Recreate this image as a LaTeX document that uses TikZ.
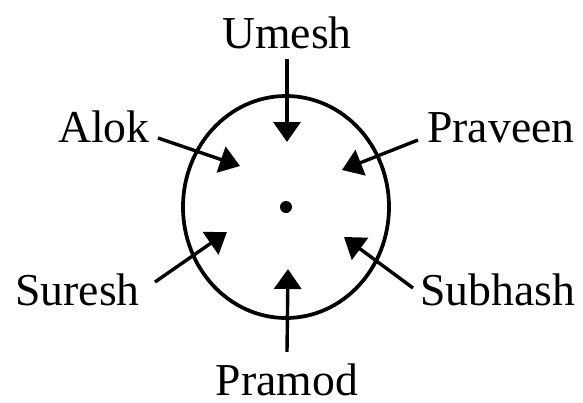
\documentclass[tikz,border=0pt]{standalone}
\usepackage{fontspec}
\setmainfont{Liberation Serif}
\usetikzlibrary{arrows.meta,positioning,calc}
\tikzset{
  namelbl/.style={inner sep=0pt, font=\fontsize{26}{30}\selectfont},
  ringln/.style={line width=0.075cm},
  pointer/.style={-{Triangle[length=0.4cm,width=0.54cm]}, line width=0.068cm},
}
\begin{document}
\begin{tikzpicture}[x=0.02cm, y=-0.02cm]
        \useasboundingbox (0,0) rectangle (583,403);
        % seat ring and centre
        \coordinate (ctr) at (286,207);
        \draw[ringln] (ctr) ellipse [x radius=103, y radius=111];
        \fill (ctr) circle (6);
        % names round the table
        \node[namelbl, anchor=base] (umesh) at (287,48) {Umesh};
        \node[namelbl, anchor=base east] (alok) at (150,142) {Alok};
        \node[namelbl, anchor=base west] (praveen) at (427,142) {Praveen};
        \node[namelbl, anchor=base east] (suresh) at (140,305) {Suresh};
        \node[namelbl, anchor=base west] (subhash) at (420,305) {Subhash};
        \node[namelbl, anchor=base] (pramod) at (287,395) {Pramod};
        % arrow heads inside the ring
        \coordinate (tU) at (287,142);
        \coordinate (tA) at (240,166);
        \coordinate (tP) at (342,170);
        \coordinate (tS) at (227,232);
        \coordinate (tB) at (344,237);
        \coordinate (tM) at (288,269);
        \draw[pointer] ($(umesh.south)+(0,10)$) -- (tU);
        \draw[pointer] ($(alok.base east)+(8,-4)$) -- (tA);
        \draw[pointer] ($(praveen.base west)+(-9,-2)$) -- (tP);
        \draw[pointer] ($(suresh.base east)+(15,-23)$) -- (tS);
        \draw[pointer] ($(subhash.base west)+(-7,-17)$) -- (tB);
        \draw[pointer] ($(pramod.north)+(0,-11)$) -- (tM);
      \end{tikzpicture}
\end{document}
